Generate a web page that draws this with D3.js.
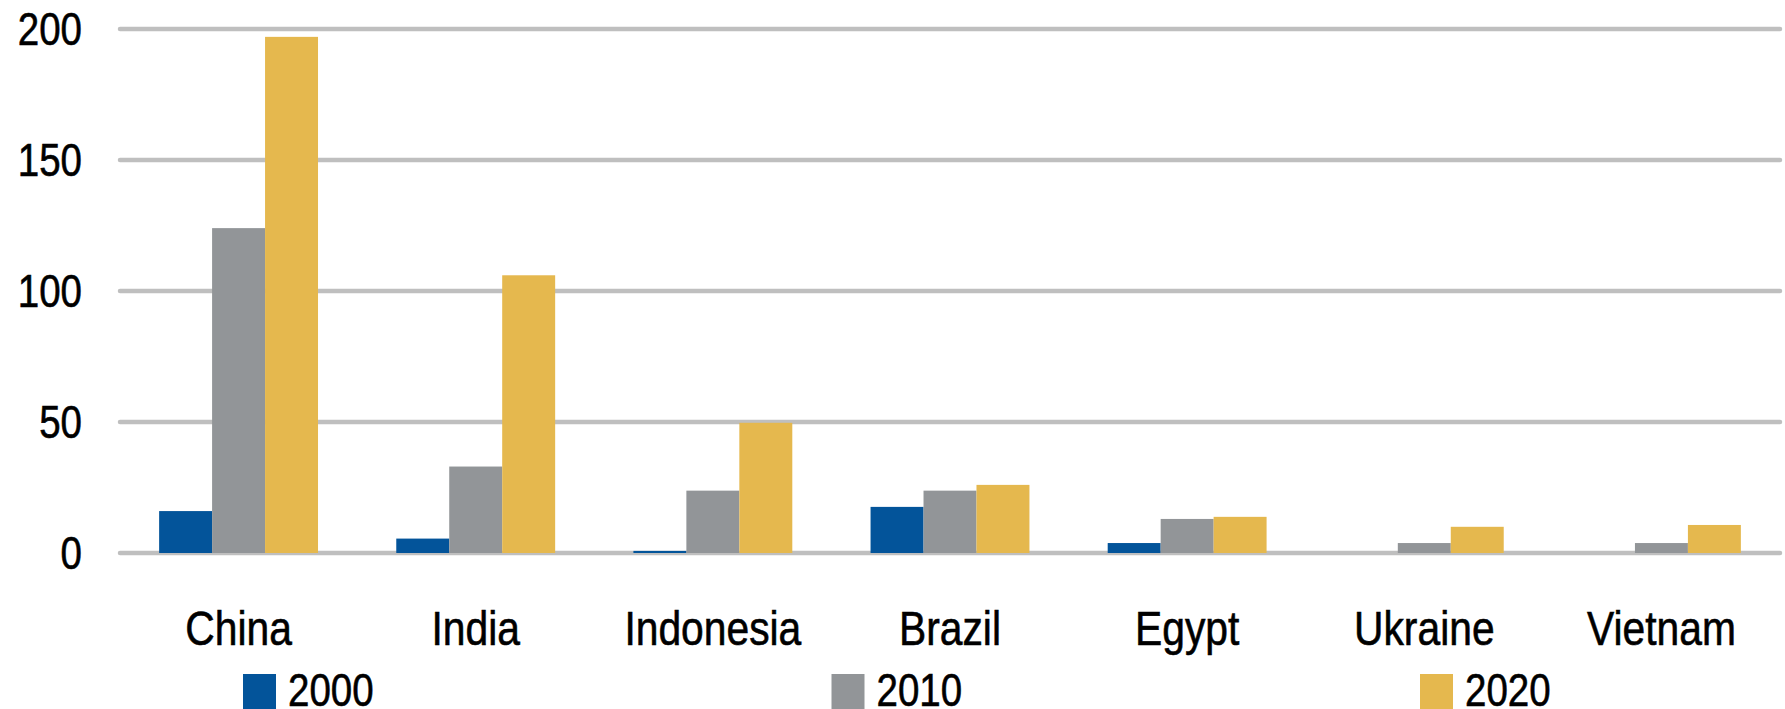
<!DOCTYPE html>
<html>
<head>
<meta charset="utf-8">
<script src="https://cdn.jsdelivr.net/npm/d3@7"></script>
<style>
  body { margin: 0; background: #fff; }
  text { font-family: "Liberation Sans Narrow", "Arial Narrow", "Liberation Sans", sans-serif; fill: #000; stroke: #000; stroke-width: 0.6px; }
</style>
</head>
<body>
<svg id="chart" width="1785" height="709"></svg>
<script>
// values
const countries = ['China', 'India', 'Indonesia', 'Brazil', 'Egypt', 'Ukraine', 'Vietnam'];
const years = ['2000', '2010', '2020'];
const v2000 = [16, 5.5, 0.8, 17.6, 3.8, 0, 0];
const v2010 = [124, 33, 23.8, 23.8, 13, 3.8, 3.8];
const v2020 = [197, 106, 49.7, 26, 13.8, 10, 10.7];
const yTicks = [0, 50, 100, 150, 200];
const colors = ['#03549a', '#929598', '#e5b84e'];

const series = [v2000, v2010, v2020];
const rows = countries.map((c, i) => ({ country: c, vals: series.map(s => s[i]) }));

const narrow = 'scale(0.82,1)'; // no Arial Narrow here, so squeeze the sans

const svg = d3.select('#chart');

const x0 = d3.scaleBand()
  .domain(countries)
  .range([120, 1780])
  .paddingInner(0.33)
  .paddingOuter(0.165);

const x1 = d3.scaleBand()
  .domain(years)
  .range([0, x0.bandwidth()]);

const y = d3.scaleLinear()
  .domain([0, 200])
  .range([553, 29]);

// gridlines
svg.append('g')
  .selectAll('line')
  .data(yTicks)
  .enter()
  .append('line')
  .attr('x1', 120)
  .attr('x2', 1780)
  .attr('y1', d => y(d))
  .attr('y2', d => y(d))
  .attr('stroke', '#bfbfbf')
  .attr('stroke-width', 4.5)
  .attr('stroke-linecap', 'round');

// y labels
const yAxis = svg.append('g')
  .attr('transform', 'translate(82,0)')
  .call(d3.axisLeft(y).tickValues(yTicks).tickSize(0).tickPadding(0));
yAxis.select('.domain').remove();
yAxis.selectAll('text')
  .style('font-family', '"Liberation Sans Narrow", "Arial Narrow", "Liberation Sans", sans-serif')
  .style('font-size', '47px')
  .attr('fill', '#000')
  .attr('transform', narrow);

// bars
const groups = svg.append('g')
  .selectAll('g')
  .data(rows)
  .enter()
  .append('g')
  .attr('transform', d => 'translate(' + x0(d.country) + ',0)');

groups.selectAll('rect')
  .data(d => d.vals.map((v, i) => ({ year: years[i], v: v, i: i })))
  .enter()
  .append('rect')
  .attr('x', d => x1(d.year))
  .attr('width', x1.bandwidth())
  .attr('y', d => y(d.v))
  .attr('height', d => y(0) - y(d.v))
  .attr('fill', d => colors[d.i]);

// category labels
svg.append('g')
  .selectAll('g')
  .data(countries)
  .enter()
  .append('g')
  .attr('transform', d => 'translate(' + (x0(d) + x0.bandwidth() / 2) + ',645)')
  .append('text')
  .attr('text-anchor', 'middle')
  .attr('transform', 'scale(0.85,1)')
  .style('font-size', '48px')
  .text(d => d);

// legend
const legend = svg.append('g')
  .selectAll('g')
  .data(years)
  .enter()
  .append('g')
  .attr('transform', (d, i) => 'translate(' + (243 + i * 588.5) + ',0)');

legend.append('rect')
  .attr('x', 0)
  .attr('y', 674)
  .attr('width', 33)
  .attr('height', 40)
  .attr('fill', (d, i) => colors[i]);

legend.append('g')
  .attr('transform', 'translate(45,706)')
  .append('text')
  .attr('transform', narrow)
  .style('font-size', '47px')
  .text(d => d);
</script>
</body>
</html>
